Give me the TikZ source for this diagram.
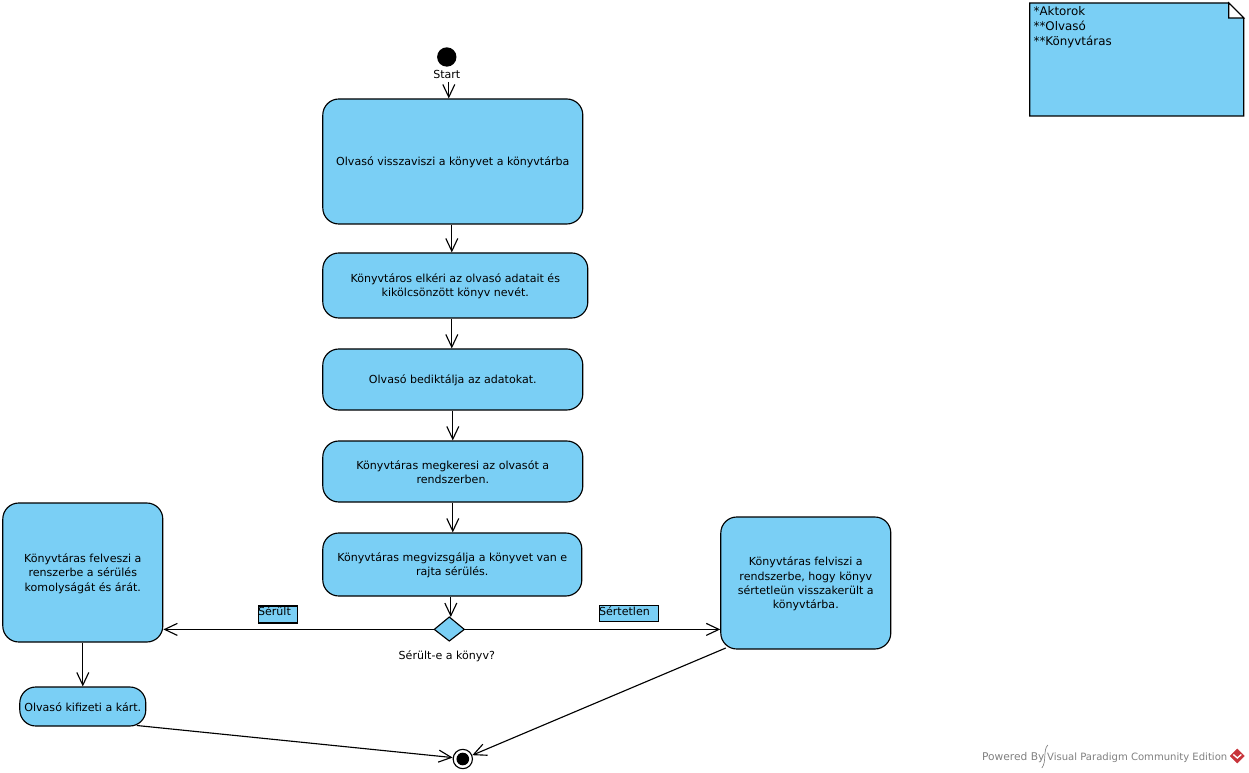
\documentclass[tikz,border=0pt]{standalone}
\usepackage{fontspec}
\setmainfont{DejaVu Sans}
\usetikzlibrary{arrows.meta,calc}
\definecolor{vpblue}{HTML}{7ACFF5}
\definecolor{vpgray}{HTML}{808080}
\definecolor{vpred}{HTML}{C8343A}
\tikzset{
  x=0.75pt,y=-0.75pt,
  act/.style={draw=black,fill=vpblue,line width=0.85pt,rounded corners=12pt,inner sep=0pt},
  lbl/.style={inner sep=0pt,font=\fontsize{8.3pt}{10.7pt}\selectfont,align=center},
  acttext/.style={lbl,yshift=-0.75pt},
  tag/.style={draw=black,fill=vpblue,line width=0.85pt,inner sep=0pt},
  flow/.style={draw=black,line width=0.85pt,-{Straight Barb[length=9.5pt,width=9pt,line width=0.85pt]}},
  wm/.style={inner sep=0pt,text=vpgray,anchor=west},
}
\begin{document}
\begin{tikzpicture}
\useasboundingbox (0,0) rectangle (1249,773);
\begin{scope}[xshift=-0.15pt]
% note
\draw[fill=vpblue,draw=black,line width=0.85pt] (1030,3) -- (1229,3) -- (1244,18) -- (1244,116) -- (1030,116) -- cycle;
\draw[fill=white,draw=black,line width=0.85pt] (1229,3) -- (1244,18) -- (1229,18) -- cycle;
\node[inner sep=0pt,anchor=north west,align=left,font=\fontsize{8.9pt}{11.25pt}\selectfont] (note) at (1033.5,6.5) {*Aktorok\\**Olvasó\\**Könyvtáras};
% start
\node[circle,fill=black,inner sep=0pt,minimum size=14.5pt] (s) at (447,57) {};
\node[lbl] (slabel) at (447,74.5) {Start};
\coordinate (sa) at (449,82);
% actions
\node[act,minimum width=195pt,minimum height=93.75pt,label={[acttext]center:{Olvasó visszaviszi a könyvet a könyvtárba}}] (a1) at (453,161.5) {};
\node[act,minimum width=198.75pt,minimum height=48.75pt,label={[acttext]center:{Könyvtáros elkéri az olvasó adatait és\\kikölcsönzött könyv nevét.}}] (a2) at (455.5,285.5) {};
\node[act,minimum width=195pt,minimum height=45.75pt,label={[acttext]center:{Olvasó bediktálja az adatokat.}}] (a3) at (453,379.5) {};
\node[act,minimum width=195pt,minimum height=45.75pt,label={[acttext]center:{Könyvtáras megkeresi az olvasót a\\rendszerben.}}] (a4) at (453,471.5) {};
\node[act,minimum width=194.25pt,minimum height=47.25pt,label={[acttext]center:{Könyvtáras megvizsgálja a könyvet van e\\rajta sérülés.}}] (a5) at (452.5,564.5) {};
\node[act,minimum width=120pt,minimum height=104.25pt,label={[acttext]center:{Könyvtáras felveszi a\\renszerbe a sérülés\\komolyságát és árát.}}] (L) at (83,572.5) {};
\node[act,minimum width=94.5pt,minimum height=29.25pt,label={[acttext]center:{Olvasó kifizeti a kárt.}}] (P) at (83,706.5) {};
\node[act,minimum width=127.5pt,minimum height=99pt,label={[acttext]center:{Könyvtáras felviszi a\\rendszerbe, hogy könyv\\sértetleün visszakerült a\\könyvtárba.}}] (R) at (806,583) {};
% decision
\draw[fill=vpblue,draw=black,line width=0.85pt] (434.5,629.4) coordinate (dw) -- (449.5,617) -- (464.5,629.4) coordinate (de) -- (449.5,641) -- cycle;
\coordinate (dn) at (451,617);
\node[lbl] (dlabel) at (447,656.5) {Sérült-e a könyv?};
% guards
\node[tag,minimum width=29.25pt,minimum height=12.75pt] (t1) at (278.5,614.5) {};
\node[lbl,anchor=north west] (t1t) at (258,606.5) {Sérült};
\node[tag,minimum width=44.25pt,minimum height=12pt] (t2) at (629.5,613.4) {};
\node[lbl,anchor=north west] (t2t) at (599,606) {Sértetlen};
% end
\node[circle,draw=black,fill=white,line width=0.85pt,inner sep=0pt,minimum size=14.5pt] (e) at (463,759) {};
\node[circle,fill=black,inner sep=0pt,minimum size=9.5pt] (ei) at (463,759) {};
\coordinate (pe) at (137,725.5);
\coordinate (re) at (726,648);
% connectors
\draw[flow] (sa) -- (sa |- a1.north);
\draw[flow] (a1.south) ++(-1,0) -- ($(a2.north -| a1.south)+(-1,0)$);
\draw[flow] (a3.north |- a2.south) ++(-1,0) -- ($(a3.north)+(-1,0)$);
\draw[flow] (a3.south) -- (a3.south |- a4.north);
\draw[flow] (a4.south) -- (a4.south |- a5.north);
\draw[flow] (dn |- a5.south) -- (dn);
\draw[flow] (dw) -- (dw -| L.east);
\draw[flow] (de) -- (de -| R.west);
\draw[flow] (L.south) -- (P.north);
\draw[flow] (pe) -- (e.172);
\draw[flow] (re) -- (e.22);
% watermark
\node[wm,font=\fontsize{8pt}{10pt}\selectfont] (w1) at (982,757.5) {Powered By};
\node[wm,font=\fontsize{7.55pt}{10pt}\selectfont] (w2) at (1047,757.5) {Visual Paradigm Community Edition};
\draw[vpgray,line width=0.5pt] (1048,745) .. controls (1043,750) and (1047,762) .. (1042,768);
\draw[vpred,fill=vpred] (1237.5,749) -- (1244.5,756) -- (1237.5,763) -- (1230.5,756) -- cycle;
\draw[white,line width=1pt] (1233.5,754.5) -- (1237.5,758) -- (1241.5,754.5);
\end{scope}
\end{tikzpicture}
\end{document}
